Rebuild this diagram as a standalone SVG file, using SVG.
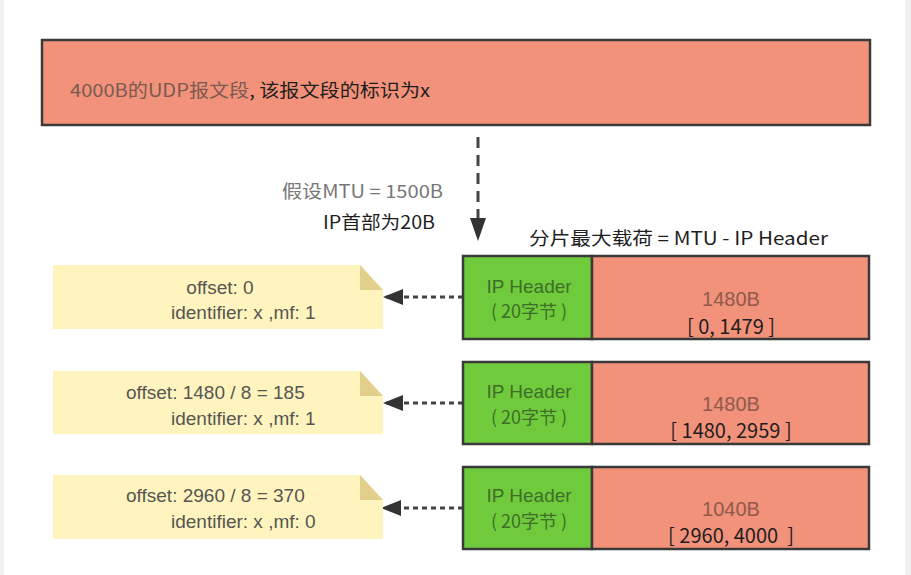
<svg xmlns="http://www.w3.org/2000/svg" width="911" height="575" viewBox="0 0 911 575">
<defs>
<style>
.t{font-family:"Liberation Sans","Noto Sans CJK SC",sans-serif;}
.c{font-family:"Noto Sans CJK SC","Noto Sans",sans-serif;}
.box{stroke:#3a3a3a;stroke-width:2.5;}
.red{fill:#f2927a;}
.grn{fill:#6fcb3b;}
.note{fill:#fff4bd;}
.fold{fill:#e2cf8c;}
.gt{fill:#3f6e2a;font-size:19px;text-anchor:middle;}
.gc{fill:#3f6e2a;font-size:18px;text-anchor:middle;}
.rt{fill:#8e5a4d;font-size:20px;text-anchor:middle;}
.bt{fill:#1e1e1e;font-size:20px;text-anchor:middle;}
.nt{fill:#555;font-size:19px;}
.dash{stroke:#444;stroke-width:3;fill:none;}
</style>
<marker id="ah" viewBox="0 0 20 16" refX="20" refY="8" markerWidth="20" markerHeight="16" markerUnits="userSpaceOnUse" orient="auto">
<path d="M0,0 L20,8 L0,16 Z" fill="#333"/>
</marker>
</defs>
<rect x="0" y="0" width="911" height="575" fill="#ffffff"/>
<rect x="0" y="0" width="4" height="575" fill="#f1f0ef"/>
<rect x="905" y="0" width="6" height="575" fill="#f1f0ef"/>

<g id="udp">
<rect class="box red" x="42" y="40" width="828" height="85"/>
<text class="c" x="70" y="97" font-size="18" textLength="360" lengthAdjust="spacingAndGlyphs"><tspan fill="#7a5a52">4000B的UDP报文段</tspan><tspan fill="#1e1e1e">, 该报文段的标识为x</tspan></text>
</g>

<g id="labels">
<text class="c" x="282" y="198" font-size="18" fill="#777" textLength="161" lengthAdjust="spacingAndGlyphs">假设MTU = 1500B</text>
<text class="c" x="323" y="229" font-size="18" fill="#1e1e1e" textLength="112" lengthAdjust="spacingAndGlyphs">IP首部为20B</text>
<text class="c" x="529" y="245" font-size="18" fill="#1e1e1e" textLength="299" lengthAdjust="spacingAndGlyphs">分片最大载荷 = MTU - IP Header</text>
</g>

<g id="connectors">
<line class="dash" x1="478" y1="137" x2="478" y2="220" stroke-dasharray="11 7"/>
<path d="M470,218 L486,218 L478,241 Z" fill="#333"/>
<line class="dash" x1="463" y1="297" x2="383" y2="297" stroke-dasharray="5 4" marker-end="url(#ah)"/>
<line class="dash" x1="463" y1="403" x2="383" y2="403" stroke-dasharray="5 4" marker-end="url(#ah)"/>
<line class="dash" x1="463" y1="508" x2="381" y2="508" stroke-dasharray="5 4" marker-end="url(#ah)"/>
</g>

<g id="frag1">
<rect class="box grn" x="463" y="256" width="129" height="83"/>
<rect class="box red" x="592" y="256" width="277" height="83"/>
<text class="t gt" x="529" y="293">IP Header</text>
<text class="c gc" x="529" y="318">( 20字节 )</text>
<text class="t rt" x="731" y="306">1480B</text>
<text class="c bt" x="731" y="334">[ 0, 1479 ]</text>
</g>
<g id="frag2">
<rect class="box grn" x="463" y="362" width="129" height="82"/>
<rect class="box red" x="592" y="362" width="277" height="82"/>
<text class="t gt" x="529" y="398">IP Header</text>
<text class="c gc" x="529" y="424">( 20字节 )</text>
<text class="t rt" x="731" y="411">1480B</text>
<text class="c bt" x="731" y="438">[ 1480, 2959 ]</text>
</g>
<g id="frag3">
<rect class="box grn" x="463" y="467" width="129" height="82"/>
<rect class="box red" x="592" y="467" width="277" height="82"/>
<text class="t gt" x="529" y="502">IP Header</text>
<text class="c gc" x="529" y="528">( 20字节 )</text>
<text class="t rt" x="731" y="516">1040B</text>
<text class="c bt" x="731" y="543">[ 2960, 4000 &#160;]</text>
</g>

<g id="note1">
<path class="note" d="M53,265 H360 L383,290 V329 H53 Z"/>
<path class="fold" d="M360,265 L383,290 H360 Z"/>
<text class="t nt" x="220" y="294" text-anchor="middle">offset: 0</text>
<text class="t nt" x="171" y="319">identifier: x ,mf: 1</text>
</g>
<g id="note2">
<path class="note" d="M53,371 H360 L383,396 V434 H53 Z"/>
<path class="fold" d="M360,371 L383,396 H360 Z"/>
<text class="t nt" x="126" y="399">offset: 1480 / 8 = 185</text>
<text class="t nt" x="171" y="425">identifier: x ,mf: 1</text>
</g>
<g id="note3">
<path class="note" d="M53,475 H360 L383,500 V539 H53 Z"/>
<path class="fold" d="M360,475 L383,500 H360 Z"/>
<text class="t nt" x="126" y="502">offset: 2960 / 8 = 370</text>
<text class="t nt" x="171" y="528">identifier: x ,mf: 0</text>
</g>
</svg>
